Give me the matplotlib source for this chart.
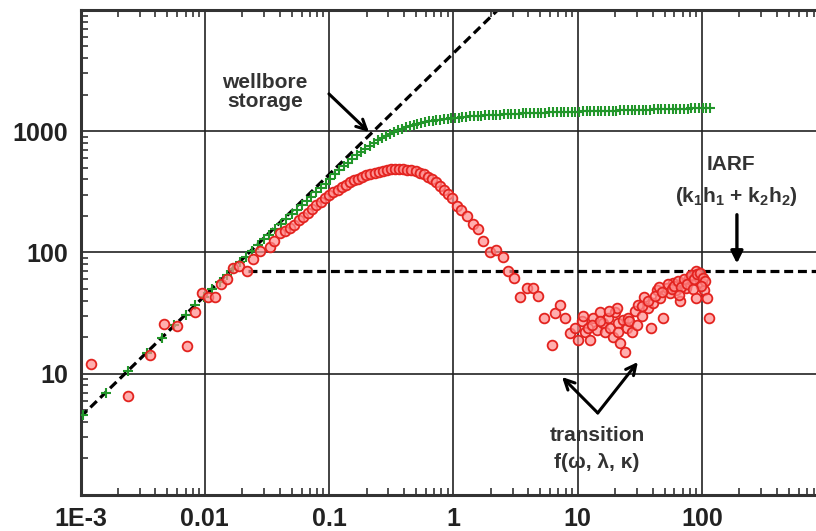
import matplotlib
matplotlib.use("Agg")
import matplotlib.pyplot as plt

# fonts: Arial-like bold everywhere, mathtext in the same font for subscripts
plt.rcParams['font.family'] = ['Liberation Sans', 'DejaVu Sans']
plt.rcParams['font.weight'] = 'bold'
plt.rcParams['mathtext.fontset'] = 'custom'
plt.rcParams['mathtext.rm'] = 'Liberation Sans:bold'
plt.rcParams['mathtext.it'] = 'Liberation Sans:bold'
plt.rcParams['mathtext.bf'] = 'Liberation Sans:bold'

# ---------------- data ----------------
# pressure change (green crosses)
green_t = [0.00105, 0.0016, 0.0024, 0.0034, 0.0045, 0.0057, 0.0070, 0.0084, 0.0099, 0.0115,
           0.0132, 0.0150, 0.0170, 0.0192, 0.0215, 0.024, 0.027, 0.030, 0.033, 0.037,
           0.041, 0.045, 0.050, 0.055, 0.060, 0.066, 0.072, 0.079, 0.086, 0.094,
           0.102, 0.111, 0.121, 0.131, 0.142, 0.154, 0.167, 0.181, 0.196, 0.212,
           0.229, 0.247, 0.266, 0.287, 0.309, 0.333, 0.358, 0.385, 0.414, 0.445,
           0.478, 0.513, 0.551, 0.591, 0.634, 0.68, 0.73, 0.78, 0.84, 0.90,
           0.96, 1.03, 1.10, 1.18, 1.27, 1.36, 1.46, 1.57, 1.68, 1.80,
           1.93, 2.07, 2.22, 2.38, 2.55, 2.73, 2.93, 3.14, 3.37, 3.61,
           3.87, 4.15, 4.45, 4.77, 5.1, 5.5, 5.9, 6.3, 6.8, 7.3,
           7.8, 8.4, 9.0, 9.6, 10.3, 11.0, 11.8, 12.6, 13.5, 14.5,
           15.5, 16.6, 17.8, 19.1, 20.5, 22.0, 23.6, 25.3, 27.1, 29.0,
           31.1, 33.3, 35.7, 38.3, 41.0, 44.0, 47.1, 50.5, 54.1, 58.0,
           62.2, 66.6, 71.4, 76.5, 82.0, 87.9, 94.2, 101, 108, 116]
green_p = [4.6, 7.0, 10.5, 14.9, 19.7, 25, 30.6, 36.7, 43.2, 50,
           57.4, 65, 73.5, 82.8, 92.5, 103, 115.5, 128, 140, 156,
           172, 188, 207, 226, 245, 267, 289, 314, 339, 370,
           405, 440, 478, 514, 552, 592, 634, 676, 718, 760,
           801, 841, 880, 918, 954, 988, 1020, 1050, 1078, 1104,
           1128, 1150, 1170, 1188, 1204, 1219, 1233, 1246, 1258, 1269,
           1279, 1289, 1298, 1307, 1315, 1323, 1330, 1337, 1344, 1350,
           1356, 1362, 1368, 1373, 1378, 1383, 1388, 1393, 1398, 1402,
           1406, 1410, 1414, 1417, 1421, 1424, 1428, 1431, 1434, 1437,
           1440, 1443, 1446, 1449, 1452, 1455, 1458, 1461, 1464, 1467,
           1470, 1473, 1476, 1479, 1482, 1485, 1488, 1491, 1494, 1497,
           1500, 1503, 1506, 1509, 1512, 1515, 1518, 1521, 1524, 1527,
           1530, 1533, 1536, 1539, 1542, 1545, 1548, 1551, 1554, 1557]

# pressure derivative (red circles)
red_t = [0.00122, 0.00243, 0.00365, 0.00473, 0.0060, 0.0072, 0.0084, 0.0095, 0.0107, 0.0120,
         0.0135, 0.0150, 0.0170, 0.0190, 0.0217, 0.0245, 0.028, 0.0335, 0.036, 0.040,
         0.044, 0.048, 0.052, 0.057, 0.062, 0.067, 0.073, 0.079, 0.086, 0.093,
         0.100, 0.108, 0.117, 0.126, 0.136, 0.147, 0.159, 0.171, 0.185, 0.199,
         0.215, 0.232, 0.250, 0.270, 0.291, 0.314, 0.339, 0.366, 0.395, 0.426,
         0.460, 0.496, 0.535, 0.577, 0.623, 0.672, 0.725, 0.782, 0.844, 0.91,
         0.98, 1.07, 1.16, 1.28, 1.43, 1.58, 1.73, 1.98, 2.2, 2.5,
         2.75, 3.1, 3.43, 3.9, 4.35, 4.8, 5.4, 6.2, 6.6, 7.2,
         7.9, 8.7, 9.5, 10.0, 10.8, 11.4, 12.1, 12.6, 13.3, 14.3,
         15.2, 16.0, 16.7, 17.6, 18.3, 19.2, 20.0, 20.8, 21.2, 22.0,
         23.0, 23.8, 24.8, 25.3, 27.3, 28.7, 30.5, 32.7, 34.4, 36.6,
         39.0, 40.4, 43.5, 46.0, 49.0, 52.0, 55.0, 58.5, 62.0, 66.0,
         70.0, 74.0, 79.0, 83.0, 89.0, 89.0, 94.5, 100, 104, 110,
         113, 11.0, 13.0, 15.0, 18.0, 21.0, 26.0, 30.0, 33.0, 37.0,
         42.0, 45.0, 48.0, 53.0, 57.0, 60.0, 64.0, 68.0, 72.0, 76.0,
         81.0, 86.0, 92.0, 97.0, 102, 106, 98.0, 85.0, 65.0]
red_dp = [12.1, 6.5, 14.3, 25.7, 24.7, 17.0, 32, 46, 43, 43,
          55, 60, 74, 78, 71, 89, 102, 110, 125, 146,
          150, 160, 170, 185, 198, 212, 228, 245, 262, 280,
          297, 313, 330, 346, 362, 378, 393, 407, 420, 433,
          445, 456, 465, 473, 479, 484, 487, 488, 487, 483,
          476, 467, 455, 440, 422, 402, 380, 356, 330, 305,
          280, 243, 225, 201, 173, 155, 125, 100, 104, 91,
          71, 62, 43, 51, 51, 44, 29, 17.3, 31.6, 36.7,
          29, 21.7, 24, 19, 27, 22, 24, 19, 29, 23,
          32, 26, 22, 29, 24, 20, 32, 35, 26, 18,
          28, 15.2, 24, 29, 22, 33, 37, 30, 43, 35,
          24, 38, 49, 42, 29, 51, 46, 56, 49, 40,
          56, 51, 62, 59, 71, 42, 62, 56, 49, 42,
          29, 30, 25, 27, 33, 22, 27, 25, 36, 40,
          44, 52, 47, 55, 50, 53, 58, 52, 60, 55,
          65, 60, 66, 68, 62, 58, 53, 50, 45]

# straight lines: unit slope (wellbore storage) and IARF level
wbs_t = [0.001, 3.0]
wbs_p = [4.4, 13200]
iarf_t = [0.0224, 1000]
iarf_p = [70, 70]

x_ticks = [1e-3, 0.01, 0.1, 1, 10, 100]
x_labels = ['1E-3', '0.01', '0.1', '1', '10', '100']
y_ticks = [10, 100, 1000]
y_labels = ['10', '100', '1000']

# ---------------- figure ----------------
fig = plt.figure(figsize=(8.16, 5.31), dpi=100)
# axes runs past the right edge of the picture (cropped original)
ax = fig.add_axes([0.0987, 0.0678, 0.9139, 0.9134])
ax.set_xscale('log')
ax.set_yscale('log')
ax.set_xlim(1e-3, 1000)
ax.set_ylim(1, 10000)

ax.grid(True, which='major', color='#222222', lw=1.2, zorder=0)

ax.plot(wbs_t, wbs_p, color='black', lw=2.3, dashes=(2.8, 1.5), zorder=2)
ax.plot(iarf_t, iarf_p, color='black', lw=2.3, dashes=(2.8, 1.5), zorder=2)

ax.plot(green_t, green_p, ls='none', marker='+', ms=7, mew=1.5, color='#22962a', zorder=3)
ax.plot(red_t, red_dp, ls='none', marker='o', ms=7, mew=1.3,
        mec='#e3231f', mfc=(1.0, 0.55, 0.55, 0.7), zorder=4)

ax.set_xticks(x_ticks)
ax.set_xticklabels(x_labels)
ax.set_yticks(y_ticks)
ax.set_yticklabels(y_labels)
ax.tick_params(which='both', direction='in', top=True, right=True)
ax.tick_params(which='major', length=0, labelsize=18, labelcolor='#222222', pad=9)
ax.tick_params(which='minor', length=5, width=1.2, color='#333333')
for s in ax.spines.values():
    s.set_linewidth(2.2)
    s.set_color('#333333')

# ---------------- annotations ----------------
txt = dict(ha='center', va='center', fontsize=15, color='#333333', fontweight='bold')
ax.text(0.0305, 2108, 'wellbore\nstorage', linespacing=1.05, **txt)
ax.annotate('', xy=(0.217, 949), xytext=(0.096, 2108),
            arrowprops=dict(arrowstyle='->', color='black', lw=2.2, mutation_scale=18))

ax.text(171, 527, 'IARF', **txt)
ax.text(188, 292, '(k$_1$h$_1$ + k$_2$h$_2$)', **txt)
ax.annotate('', xy=(191, 77), xytext=(191, 216),
            arrowprops=dict(arrowstyle='-|>', color='black', lw=2.4, mutation_scale=18))

ax.text(14.3, 3.07, 'transition', **txt)
ax.text(14.3, 1.84, 'f(ω, λ, κ)', **txt)
for tip in [(7.48, 9.4), (30.5, 12.5)]:
    ax.annotate('', xy=tip, xytext=(14.5, 4.75),
                arrowprops=dict(arrowstyle='->', color='black', lw=2.2, mutation_scale=18,
                                shrinkA=0, shrinkB=0))

fig.savefig('out.png', dpi=100)
